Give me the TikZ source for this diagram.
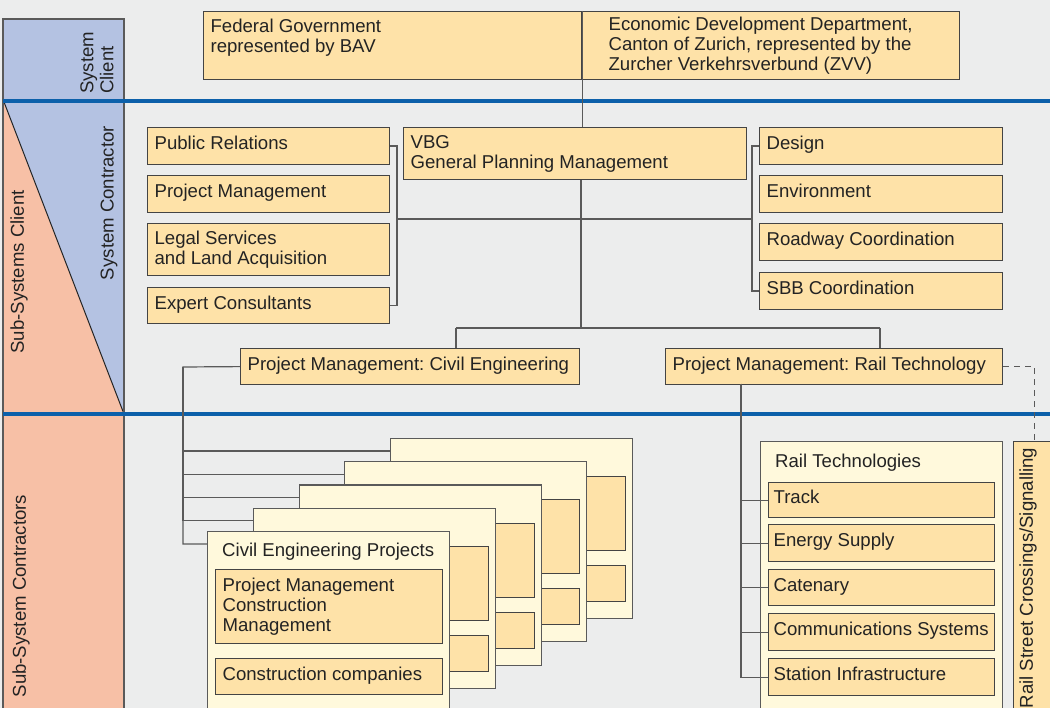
\documentclass[tikz,border=0pt]{standalone}
\usepackage{fontspec}
\setmainfont{Liberation Sans}
\usepackage{tikz}
\frenchspacing

\definecolor{bgray}{RGB}{236,237,237}
\definecolor{peach}{RGB}{254,226,168}
\definecolor{cream}{RGB}{255,249,220}
\definecolor{salmon}{RGB}{247,192,166}
\definecolor{lavender}{RGB}{180,194,226}
\definecolor{rule}{RGB}{12,96,170}
\definecolor{wire}{RGB}{90,90,90}
\definecolor{ink}{RGB}{35,35,35}

\begin{document}
\begin{tikzpicture}[x=1pt,y=-1pt,
	every node/.style={font=\fontsize{18.6}{20}\selectfont, text=ink},
	unit/.style={draw=ink!85, fill=peach, anchor=north west, align=flush left, inner xsep=7pt, inner ysep=0pt, line width=1.2pt},
	one/.style={text height=13pt, text depth=6pt},
	card/.style={draw=wire, fill=cream, anchor=north west, minimum width=242pt, minimum height=180pt, inner sep=0pt, line width=1.2pt},
	link/.style={draw=wire, line width=1.2pt},
	band/.style={rotate=90, anchor=west, align=flush left, inner sep=0pt}]
			\fill[bgray] (0,0) rectangle (1050,708);
			\useasboundingbox (0,0) rectangle (1050,708);
			\fill[lavender] (3,19) rectangle (124,101);
			\fill[lavender] (3,101) -- (124,101) -- (124,414) -- cycle;
			\fill[salmon] (3,101) -- (124,414) -- (124,720) -- (3,720) -- cycle;
			\draw[ink, line width=1pt] (4,102) -- (124,414);
			\draw[wire, line width=1.2pt] (3,720) -- (3,19) -- (124,19) -- (124,720);
			\draw[rule, line width=4pt] (3,101) -- (1050,101);
			\draw[rule, line width=4pt] (3,414) -- (1050,414);
			\node[band] (sysclient) at (97,94) {System\\Client};
			\node[rotate=90] (syscontr) at (109,203) {System Contractor};
			\node[rotate=90] (subclient) at (19,272) {Sub-Systems Client};
			\node[rotate=90] (subcontr) at (21,596) {Sub-System Contractors};
			\node[unit, text width=364pt, minimum height=68pt] (fed) at (203,11) {Federal Government\\represented by BAV\\~};
			\node[unit, text width=324pt, minimum width=378pt, minimum height=68pt] (econ) at (581,11) {Economic Development Department,\\Canton of Zurich, represented by the\\Zurcher Verkehrsverbund (ZVV)};
			\node[unit, one, text width=228pt, minimum height=37pt] (pr) at (147,127) {Public Relations};
			\node[unit, one, text width=228pt, minimum height=37pt] (pm) at (147,175) {Project Management};
			\node[unit, text width=228pt, minimum height=52pt] (legal) at (147,223) {Legal Services\\and Land Acquisition};
			\node[unit, one, text width=228pt, minimum height=36pt] (expert) at (147,287) {Expert Consultants};
			\node[unit, text width=329pt, minimum height=52pt] (vbg) at (403,127) {VBG\\General Planning Management};
			\node[unit, one, text width=229pt, minimum height=37pt] (design) at (759,127) {Design};
			\node[unit, one, text width=229pt, minimum height=37pt] (env) at (759,175) {Environment};
			\node[unit, one, text width=229pt, minimum height=37pt] (road) at (759,223) {Roadway Coordination};
			\node[unit, one, text width=229pt, minimum height=37pt] (sbb) at (759,272) {SBB Coordination};
			\node[unit, one, text width=325pt, minimum height=36pt] (pmcivil) at (240,348) {Project Management: Civil Engineering};
			\node[unit, one, text width=323pt, minimum height=36pt] (pmrail) at (665,348) {Project Management: Rail Technology};
			\coordinate (lbrk) at (397,219);
			\coordinate (rbrk) at (752,219);
			\coordinate (split) at (581,328);
			\coordinate (civdrop) at (456,328);
			\coordinate (raildrop) at (880,328);
			\coordinate (civtrunk) at (183,367);
			\coordinate (railtrunk) at (741,384);
			\draw[link] (fed.north east) -- (fed.north east |- vbg.north);
			\draw[link] (vbg.south -| split) -- (split);
			\draw[link] (pr.east) -| (lbrk) |- (expert.east);
			\draw[link] (design.west) -| (rbrk) |- (sbb.west);
			\draw[link] (lbrk) -- (rbrk);
			\draw[link] (civdrop) -- (raildrop);
			\draw[link] (civdrop) -- (civdrop |- pmcivil.north);
			\draw[link] (raildrop) -- (raildrop |- pmrail.north);
			\foreach \i in {4,3,2,1} {
				\node[card] (card\i) at (207+45.75*\i,531-23.25*\i) {};
				\node[unit, minimum width=227pt, minimum height=74pt] (cardtop\i) at ([xshift=8pt,yshift=-38pt]card\i.north west) {};
				\node[unit, minimum width=227pt, minimum height=36pt] (cardbot\i) at ([xshift=8pt,yshift=-127pt]card\i.north west) {};
				\draw[link] (civtrunk) |- ([yshift=-13pt]card\i.north west);
			}
			\node[card] (card0) at (207,531) {};
			\draw[link] (pmcivil.west) -- (civtrunk) |- ([yshift=-13pt]card0.north west);
			\node[anchor=west, inner xsep=7pt] (civtitle) at (215,552) {Civil Engineering Projects};
			\node[unit, text width=213pt, minimum height=74pt] (pmcm) at (215,569) {Project Management\\Construction\\Management};
			\node[unit, one, text width=213pt, minimum height=36pt] (companies) at (215,658) {Construction companies};
			\node[card, minimum height=280pt] (railcard) at (760,441) {};
			\node[anchor=west, inner xsep=7pt] (railtitle) at (768,463) {Rail Technologies};
			\node[unit, one, text width=216pt, inner xsep=5pt, minimum height=35pt] (track) at (768,482) {Track};
			\node[unit, one, text width=216pt, inner xsep=5pt, minimum height=37pt] (energy) at (768,524) {Energy Supply};
			\node[unit, one, text width=216pt, inner xsep=5pt, minimum height=36pt] (catenary) at (768,569) {Catenary};
			\node[unit, one, text width=216pt, inner xsep=5pt, minimum height=37pt] (comms) at (768,613) {Communications Systems};
			\node[unit, one, text width=216pt, inner xsep=5pt, minimum height=37pt] (station) at (768,658) {Station Infrastructure};
			\foreach \b in {track,energy,catenary,comms,station}
				\draw[link] (railtrunk) |- (\b.west);
			\node[unit, minimum width=42pt, minimum height=280pt] (crossing) at (1013,441) {};
			\node[rotate=90, inner sep=0pt] (crosstext) at (1028,578) {Rail Street Crossings/Signalling};
			\draw[link, dash pattern=on 6pt off 5pt] (pmrail.east) -| (crossing.north);
		\end{tikzpicture}
\end{document}
